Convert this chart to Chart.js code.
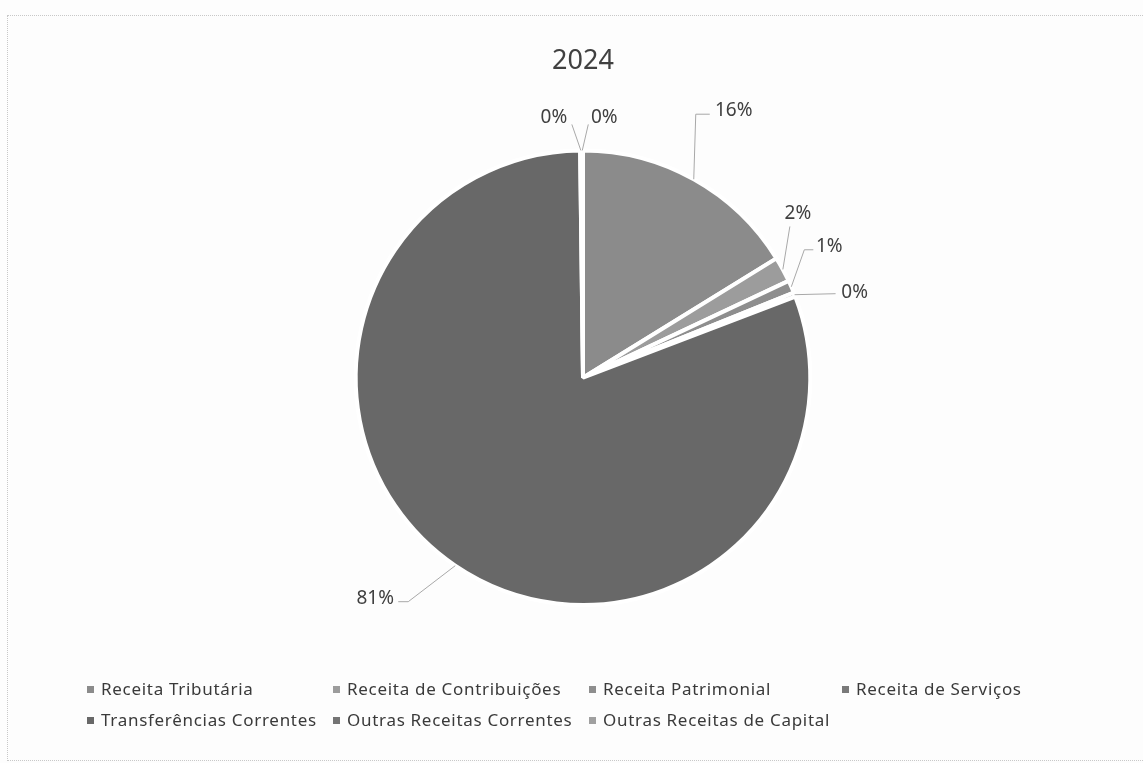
<!DOCTYPE html>
<html>
<head>
<meta charset="utf-8">
<script src="https://cdn.jsdelivr.net/npm/chart.js@4"></script>
<style>
  html, body { margin: 0; padding: 0; background: #fdfdfd; }
  #wrap { position: relative; width: 1143px; height: 763px; }
  #frame { position: absolute; left: 7px; top: 15px; width: 1150px; height: 744px; border: 1px dotted #c8c8c8; }
  #legend { position: absolute; left: 87px; top: 677px; display: grid;
            grid-template-columns: 246px 256px 253px 260px; row-gap: 8px;
            font-family: "Noto Sans", sans-serif; font-size: 17px; letter-spacing: 0.7px; color: #3a3a3a; }
  #legend span.box { display: inline-block; width: 7px; height: 7px; margin-right: 7px; vertical-align: 2px; }
</style>
</head>
<body>
<div id="wrap">
  <div id="frame"></div>
  <canvas id="pieChart" width="1143" height="763"></canvas>
  <div id="legend"></div>
</div>
<script>
// dados do gráfico 2024
const categorias = ['Receita Tributária', 'Receita de Contribuições', 'Receita Patrimonial', 'Receita de Serviços',
                    'Transferências Correntes', 'Outras Receitas Correntes', 'Outras Receitas de Capital'];
const percentuais = [16.2, 1.8, 0.9, 0.3, 80.6, 0.1, 0.1];
const cores = ['#8b8b8b', '#9c9c9c', '#8e8e8e', '#7a7a7a', '#686868', '#747474', '#a0a0a0'];

// posição dos rótulos em relação ao ponto da borda: [dx, dy, fimLinhaX, fimLinhaY, cauda]
const posRotulos = [
    [40, -69, -24, 4, 14],
    [15, -56, -8, 13, 0],
    [38, -40, -16, 3, 9],
    [60, -2, -19, 1, 0],
    [-80, 33, 23, 3, -10],
    [-27, -33, 18, 7, 0],
    [22, -33, -16, 7, 0]
];

const rotulosPlugin = {
    id: 'rotulos',
    afterDatasetsDraw(chart) {
        const ctx = chart.ctx;
        const meta = chart.getDatasetMeta(0);
        const total = percentuais.reduce((a, b) => a + b, 0);
        ctx.save();
        ctx.font = '19px "Noto Sans", sans-serif';
        ctx.textAlign = 'center';
        ctx.textBaseline = 'middle';
        meta.data.forEach((arc, i) => {
            const p = arc.getProps(['x', 'y', 'startAngle', 'endAngle', 'outerRadius'], true);
            const mid = (p.startAngle + p.endAngle) / 2;
            const ax = p.x + Math.cos(mid) * p.outerRadius;
            const ay = p.y + Math.sin(mid) * p.outerRadius;
            const [dx, dy, ex, ey, tail] = posRotulos[i];
            const tx = ax + dx, ty = ay + dy;
            const endX = tx + ex, endY = ty + ey;
            ctx.strokeStyle = '#a8a8a8';
            ctx.lineWidth = 1;
            ctx.beginPath();
            ctx.moveTo(ax, ay);
            ctx.lineTo(endX - tail, endY);
            ctx.lineTo(endX, endY);
            ctx.stroke();
            ctx.fillStyle = '#404040';
            ctx.fillText(Math.round(percentuais[i] / total * 100) + '%', tx, ty);
        });
        ctx.restore();
    }
};

const ctxPie = document.getElementById('pieChart').getContext('2d');
const pieChart = new Chart(ctxPie, {
    type: 'pie',
    data: {
        labels: categorias,
        datasets: [{
            data: percentuais,
            backgroundColor: cores,
            borderColor: '#ffffff',
            borderWidth: 4
        }]
    },
    options: {
        responsive: false,
        animation: false,
        layout: { padding: { top: 0, bottom: 156, left: 23, right: 0 } },
        plugins: {
            legend: { display: false },
            tooltip: { enabled: false },
            title: {
                display: true,
                text: '2024',
                color: '#404040',
                font: { family: '"Noto Sans", sans-serif', size: 27, weight: 'normal' },
                padding: { top: 45, bottom: 71 }
            }
        }
    },
    plugins: [rotulosPlugin]
});

// legenda em grade, como no Excel
const legenda = document.getElementById('legend');
categorias.forEach((nome, i) => {
    const item = document.createElement('div');
    item.innerHTML = '<span class="box" style="background:' + cores[i] + '"></span>' + nome;
    legenda.appendChild(item);
});
</script>
</body>
</html>
